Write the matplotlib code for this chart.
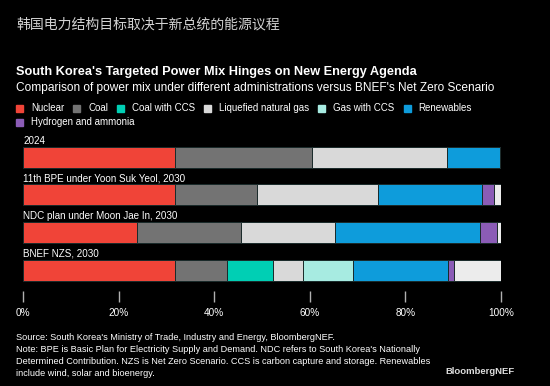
import matplotlib.pyplot as plt
from matplotlib.patches import Rectangle

plt.rcParams['font.family'] = ['Liberation Sans', 'Noto Sans CJK SC', 'DejaVu Sans']

# power mix shares (%)
CATEGORIES = ['2024', '11th BPE under Yoon Suk Yeol, 2030',
              'NDC plan under Moon Jae In, 2030', 'BNEF NZS, 2030']
nuclear = [31.7, 31.7, 23.9, 31.9]
coal = [28.7, 17.3, 21.8, 10.7]
coal_ccs = [0, 0, 0, 9.6]
lng = [28.2, 25.3, 19.6, 6.3]
gas_ccs = [0, 0, 0, 10.5]
renewables = [11.2, 21.7, 30.4, 20.0]
hydrogen = [0, 2.6, 3.5, 1.1]
other = [0.3, 1.4, 0.8, 9.9]

SERIES = ['Nuclear', 'Coal', 'Coal with CCS', 'Liquefied natural gas',
          'Gas with CCS', 'Renewables', 'Hydrogen and ammonia']
VALUES = [nuclear, coal, coal_ccs, lng, gas_ccs, renewables, hydrogen]
COLORS = ['#f04438', '#737373', '#00cfb4', '#d9d9d9', '#a7ebe1', '#0e9cdb', '#8b5cb6']
OTHER_COLOR = '#ececec'

W, H = 550, 386
fig = plt.figure(figsize=(W / 100, H / 100), dpi=100, facecolor='black')


def px(x, y):
    # figure fraction from pixel position (top-left origin)
    return x / W, 1 - y / H


# titles
fig.text(*px(16, 24), '韩国电力结构目标取决于新总统的能源议程', color='#d2d2d2',
         fontsize=10, va='center', family=['Noto Sans CJK SC', 'DejaVu Sans'])
fig.text(*px(16, 72), "South Korea's Targeted Power Mix Hinges on New Energy Agenda",
         color='white', fontsize=9.15, fontweight='bold', va='center')
fig.text(*px(16, 88), "Comparison of power mix under different administrations versus BNEF's Net Zero Scenario",
         color='white', fontsize=8.55, va='center')

# legend, flowed left to right
fig.canvas.draw()
renderer = fig.canvas.get_renderer()
x, y = 16, 108
for name, col in zip(SERIES, COLORS):
    t = fig.text(*px(x + 15, y), name, color='white', fontsize=7.0, va='center')
    w = t.get_window_extent(renderer).width
    if x + 15 + w > 535:
        x, y = 16, y + 14
        t.set_position(px(x + 15, y))
    fig.patches.append(Rectangle(px(x, y + 3.5), 7 / W, 7 / H, color=col,
                                 transform=fig.transFigure, figure=fig))
    x = x + 15 + w + 9

ax = fig.add_axes([23 / W, 1 - 291 / H, 478 / W, 155 / H])
ax.set_facecolor('black')

pos = list(range(len(CATEGORIES)))
left = [0] * len(CATEGORIES)
for vals, col in zip(VALUES + [other], COLORS + [OTHER_COLOR]):
    ax.barh(pos, vals, left=left, height=0.56, color=col,
            edgecolor='#1a2a2a', linewidth=0.7)
    left = [a + b for a, b in zip(left, vals)]

for i, name in enumerate(CATEGORIES):
    ax.text(0, i - 0.44, name, color='white', fontsize=7.1, va='center', ha='left')

ax.set_xlim(0, 100)
ax.set_ylim(3.552, -0.563)
ax.set_yticks([])
ax.set_xticks([0, 20, 40, 60, 80, 100])
ax.set_xticklabels(['0%', '20%', '40%', '60%', '80%', '100%'])
ax.tick_params(axis='x', colors='#b0b0b0', length=8, width=1, pad=4,
               labelsize=7.2, labelcolor='white')
for s in ax.spines.values():
    s.set_visible(False)

# footnotes
notes = ["Source: South Korea's Ministry of Trade, Industry and Energy, BloombergNEF.",
         "Note: BPE is Basic Plan for Electricity Supply and Demand. NDC refers to South Korea's Nationally",
         "Determined Contribution. NZS is Net Zero Scenario. CCS is carbon capture and storage. Renewables",
         "include wind, solar and bioenergy."]
for k, line in enumerate(notes):
    fig.text(*px(16, 337 + k * 12.3), line, color='white', fontsize=6.6, va='center')
fig.text(*px(515, 371), 'BloombergNEF', color='#dddddd', fontsize=6.8,
         fontweight='bold', va='center', ha='right')

fig.savefig('out.png', dpi=100, facecolor='black')
